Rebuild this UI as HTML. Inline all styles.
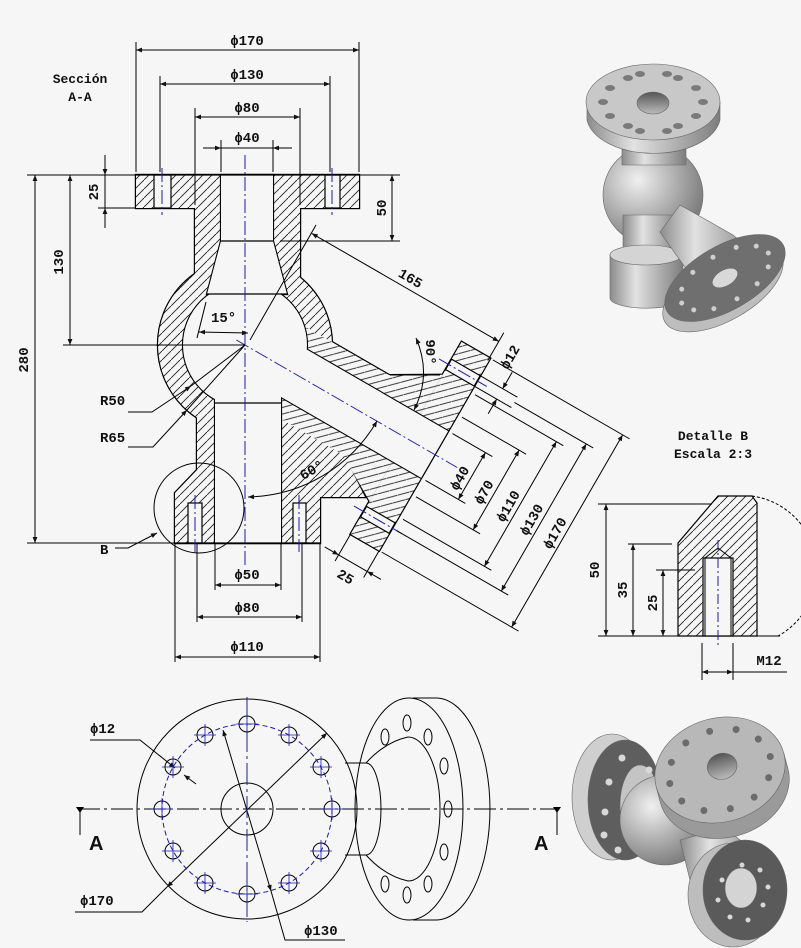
<!DOCTYPE html>
<html><head><meta charset="utf-8"><style>
html,body{margin:0;padding:0;background:#f6f6f6}
svg{display:block}
text{font-family:"Liberation Mono","DejaVu Sans Mono",monospace;font-weight:bold;font-size:14px;fill:#111}
</style></head><body>
<svg width="801" height="948" viewBox="0 0 801 948" xmlns="http://www.w3.org/2000/svg">
<defs>
<pattern id="h" patternUnits="userSpaceOnUse" width="9" height="9">
<rect width="9" height="9" fill="#f6f6f6"/><path d="M-1,10 L10,-1" stroke="#222" stroke-width="0.9"/>
</pattern>
<marker id="a" viewBox="0 0 10 10" refX="10" refY="5" markerWidth="9" markerHeight="6" orient="auto-start-reverse" markerUnits="userSpaceOnUse"><path d="M0,1 L10,5 L0,9z" fill="#111"/></marker>
<linearGradient id="g1" x1="0" x2="1"><stop offset="0" stop-color="#8c8c8c"/><stop offset="0.35" stop-color="#e2e2e2"/><stop offset="1" stop-color="#7d7d7d"/></linearGradient>
<radialGradient id="g2" cx="0.35" cy="0.35" r="0.7"><stop offset="0" stop-color="#f0f0f0"/><stop offset="0.6" stop-color="#a8a8a8"/><stop offset="1" stop-color="#7a7a7a"/></radialGradient>
<linearGradient id="g3" x1="0" x2="0" y1="0" y2="1"><stop offset="0" stop-color="#555"/><stop offset="1" stop-color="#bbb"/></linearGradient>
</defs>
<rect width="801" height="948" fill="#f6f6f6"/>

<!-- ===== SECTION VIEW ===== -->
<g id="body">
<g stroke="#000" stroke-width="2.4" fill="none">
<rect x="136" y="175" width="223" height="33"/>
<rect x="195" y="208" width="105" height="80"/>
<circle cx="245" cy="345" r="87"/>
<rect x="197" y="380" width="105" height="110"/>
<polygon points="197,470 175,493 175,543 320,543 320,497 302,485 302,470"/>
<polygon points="302,430 343,453 365,497 320,497 302,487"/>
<g transform="translate(245,345) rotate(30)">
<rect x="40" y="-46" width="110" height="92"/>
<polygon points="140,-46 186,-73 186,73 139,46"/>
<rect x="186" y="-111" width="33" height="222"/>
</g>
</g>
<g fill="url(#h)" stroke="none">
<rect x="136" y="175" width="223" height="33"/>
<rect x="195" y="208" width="105" height="80"/>
<circle cx="245" cy="345" r="87"/>
<rect x="197" y="380" width="105" height="110"/>
<polygon points="197,470 175,493 175,543 320,543 320,497 302,485 302,470"/>
<polygon points="302,430 343,453 365,497 320,497 302,487"/>
<g transform="translate(245,345) rotate(30)">
<rect x="40" y="-46" width="110" height="92"/>
<polygon points="140,-46 186,-73 186,73 139,46"/>
<rect x="186" y="-111" width="33" height="222"/>
</g>
</g>
<g stroke="#000" stroke-width="2.2" fill="none">
<polygon points="221,175 273,175 273,241 287,294 207,294 221,241"/>
<circle cx="245" cy="345" r="62"/>
<rect x="215" y="345" width="66" height="198"/>
<g transform="translate(245,345) rotate(30)"><rect x="0" y="-27" width="219" height="54"/></g>
</g>
<g fill="#f6f6f6" stroke="none">
<polygon points="221,175 273,175 273,241 287,294 207,294 221,241"/>
<circle cx="245" cy="345" r="62"/>
<rect x="215" y="345" width="66" height="198"/>
<g transform="translate(245,345) rotate(30)"><rect x="0" y="-27" width="219" height="54"/></g>
</g>
<g stroke="#000" stroke-width="1.2" fill="#f6f6f6">
<rect x="154" y="175" width="17" height="33"/>
<rect x="325" y="175" width="15" height="33"/>
<rect x="188" y="503" width="14" height="40"/>
<rect x="293" y="503" width="13" height="40"/>
<g transform="translate(245,345) rotate(30)">
<rect x="186" y="-91" width="33" height="12"/>
<rect x="186" y="79" width="33" height="12"/>
</g>
</g>
<g stroke="#000" stroke-width="1.2">
<line x1="221" y1="241" x2="273" y2="241"/>
<line x1="207" y1="294" x2="287" y2="294"/>
<line x1="215" y1="403" x2="281" y2="403"/>
<line x1="175" y1="543" x2="320" y2="543"/>
<line x1="136" y1="175" x2="359" y2="175"/>
</g>
</g>

<g stroke="#1a1ab0" stroke-width="1" stroke-dasharray="14,3,2,3" fill="none">
<line x1="245" y1="155" x2="245" y2="565"/>
<line x1="162" y1="168" x2="162" y2="215"/>
<line x1="332" y1="168" x2="332" y2="215"/>
<line x1="195" y1="495" x2="195" y2="552"/>
<line x1="299" y1="495" x2="299" y2="552"/>
<g transform="translate(245,345) rotate(30)">
<line x1="-10" y1="0" x2="245" y2="0"/>
<line x1="175" y1="-85" x2="230" y2="-85"/>
<line x1="175" y1="85" x2="230" y2="85"/>
</g>
</g>

<g stroke="#000" stroke-width="1" fill="none">
<line x1="136" y1="42" x2="136" y2="172"/><line x1="359" y1="42" x2="359" y2="172"/>
<line x1="136" y1="50" x2="359" y2="50" marker-start="url(#a)" marker-end="url(#a)"/>
<line x1="160" y1="76" x2="160" y2="172"/><line x1="330" y1="76" x2="330" y2="172"/>
<line x1="160" y1="84" x2="330" y2="84" marker-start="url(#a)" marker-end="url(#a)"/>
<line x1="195" y1="108" x2="195" y2="205"/><line x1="300" y1="108" x2="300" y2="205"/>
<line x1="195" y1="117" x2="300" y2="117" marker-start="url(#a)" marker-end="url(#a)"/>
<line x1="221" y1="140" x2="221" y2="172"/><line x1="273" y1="140" x2="273" y2="172"/>
<line x1="203" y1="148" x2="221" y2="148" marker-end="url(#a)"/>
<line x1="221" y1="148" x2="273" y2="148"/>
<line x1="292" y1="148" x2="273" y2="148" marker-end="url(#a)"/>
<line x1="27" y1="175" x2="136" y2="175"/>
<line x1="98" y1="208" x2="136" y2="208"/>
<line x1="105" y1="155" x2="105" y2="175" marker-end="url(#a)"/>
<line x1="105" y1="228" x2="105" y2="208" marker-end="url(#a)"/>
<line x1="105" y1="175" x2="105" y2="208"/>
<line x1="63" y1="345" x2="245" y2="345"/>
<line x1="70" y1="175" x2="70" y2="345" marker-start="url(#a)" marker-end="url(#a)"/>
<line x1="27" y1="543" x2="175" y2="543"/>
<line x1="35" y1="175" x2="35" y2="543" marker-start="url(#a)" marker-end="url(#a)"/>
<line x1="359" y1="175" x2="400" y2="175"/>
<line x1="280" y1="241" x2="400" y2="241"/>
<line x1="392" y1="175" x2="392" y2="241" marker-start="url(#a)" marker-end="url(#a)"/>
<line x1="215" y1="543" x2="215" y2="590"/><line x1="281" y1="543" x2="281" y2="590"/>
<line x1="215" y1="585" x2="281" y2="585" marker-start="url(#a)" marker-end="url(#a)"/>
<line x1="197" y1="543" x2="197" y2="622"/><line x1="302" y1="543" x2="302" y2="622"/>
<line x1="197" y1="617" x2="302" y2="617" marker-start="url(#a)" marker-end="url(#a)"/>
<line x1="175" y1="543" x2="175" y2="662"/><line x1="320" y1="543" x2="320" y2="662"/>
<line x1="175" y1="657" x2="320" y2="657" marker-start="url(#a)" marker-end="url(#a)"/>
<line x1="245" y1="345" x2="191" y2="386"/>
<line x1="245" y1="345" x2="187" y2="410"/>
<polyline points="128,412 152,412 191,386" marker-end="url(#a)"/>
<polyline points="128,447 153,447 187,410" marker-end="url(#a)"/>
<circle cx="199" cy="508" r="45"/>
<polyline points="115,548 128,548 157,533" marker-end="url(#a)"/>
<line x1="197" y1="338" x2="206" y2="302"/>
<line x1="199" y1="332" x2="248" y2="333" marker-start="url(#a)" marker-end="url(#a)"/>
<line x1="250" y1="340" x2="316" y2="225"/>
<path d="M248,497 A152,152 0 0 0 377,421" marker-start="url(#a)" marker-end="url(#a)"/>
<path d="M416,338 Q432,375 414,410" marker-start="url(#a)" marker-end="url(#a)"/>
<line x1="390" y1="375" x2="440" y2="375"/>
<g transform="translate(245,345) rotate(30)">
<line x1="218" y1="-108" x2="218" y2="-140"/>
<line x1="2" y1="-130" x2="218" y2="-130" marker-start="url(#a)" marker-end="url(#a)"/>
<line x1="219" y1="-79" x2="262" y2="-79"/>
<line x1="219" y1="-91" x2="262" y2="-91"/>
<line x1="245" y1="-62" x2="245" y2="-79" marker-end="url(#a)"/>
<line x1="245" y1="-110" x2="245" y2="-91" marker-end="url(#a)"/>
<line x1="224" y1="-27" x2="270" y2="-27"/><line x1="224" y1="27" x2="270" y2="27"/>
<line x1="262" y1="-27" x2="262" y2="27" marker-start="url(#a)" marker-end="url(#a)"/>
<line x1="224" y1="-46" x2="298" y2="-46"/><line x1="224" y1="46" x2="298" y2="46"/>
<line x1="290" y1="-46" x2="290" y2="46" marker-start="url(#a)" marker-end="url(#a)"/>
<line x1="224" y1="-72" x2="326" y2="-72"/><line x1="224" y1="72" x2="326" y2="72"/>
<line x1="318" y1="-72" x2="318" y2="72" marker-start="url(#a)" marker-end="url(#a)"/>
<line x1="262" y1="-85" x2="353" y2="-85"/><line x1="224" y1="85" x2="353" y2="85"/>
<line x1="345" y1="-85" x2="345" y2="85" marker-start="url(#a)" marker-end="url(#a)"/>
<line x1="222" y1="-111" x2="380" y2="-111"/><line x1="222" y1="111" x2="380" y2="111"/>
<line x1="372" y1="-111" x2="372" y2="111" marker-start="url(#a)" marker-end="url(#a)"/>
<line x1="186" y1="111" x2="186" y2="142"/><line x1="219" y1="111" x2="219" y2="142"/>
<line x1="170" y1="135" x2="186" y2="135" marker-end="url(#a)"/>
<line x1="235" y1="135" x2="219" y2="135" marker-end="url(#a)"/>
<line x1="186" y1="135" x2="219" y2="135"/>
</g>
</g>

<text x="80" y="83" text-anchor="middle" style="font-size:13px">Sección</text>
<text x="80" y="101" text-anchor="middle" style="font-size:13px">A-A</text>
<text x="247" y="45" text-anchor="middle">ϕ170</text>
<text x="247" y="79" text-anchor="middle">ϕ130</text>
<text x="247" y="112" text-anchor="middle">ϕ80</text>
<text x="247" y="142" text-anchor="middle">ϕ40</text>
<text transform="translate(98,192) rotate(-90)" text-anchor="middle">25</text>
<text transform="translate(63,262) rotate(-90)" text-anchor="middle">130</text>
<text transform="translate(28,360) rotate(-90)" text-anchor="middle">280</text>
<text transform="translate(386,208) rotate(-90)" text-anchor="middle">50</text>
<text x="100" y="405">R50</text>
<text x="100" y="442">R65</text>
<text x="100" y="554">B</text>
<text x="211" y="322">15°</text>
<text transform="translate(314,474) rotate(-30)" text-anchor="middle">60°</text>
<text transform="translate(426,352) rotate(90)" text-anchor="middle">90°</text>
<text x="247" y="579" text-anchor="middle">ϕ50</text>
<text x="247" y="612" text-anchor="middle">ϕ80</text>
<text x="247" y="651" text-anchor="middle">ϕ110</text>
<g transform="translate(245,345) rotate(30)">
<text x="110" y="-136" text-anchor="middle">165</text>
<text transform="translate(240,-122) rotate(-90)" text-anchor="middle">ϕ12</text>
<text transform="translate(257,8) rotate(-90)" text-anchor="middle">ϕ40</text>
<text transform="translate(285,8) rotate(-90)" text-anchor="middle">ϕ70</text>
<text transform="translate(313,8) rotate(-90)" text-anchor="middle">ϕ110</text>
<text transform="translate(340,8) rotate(-90)" text-anchor="middle">ϕ130</text>
<text transform="translate(367,8) rotate(-90)" text-anchor="middle">ϕ170</text>
<text x="203" y="155" text-anchor="middle">25</text>
</g>

<!-- ===== DETAIL B ===== -->
<polygon points="678,636 678,543 718,496 752,496 757,503 757,636" fill="url(#h)" stroke="#000" stroke-width="1.2"/>
<rect x="703" y="558" width="30" height="78" fill="#f6f6f6" stroke="#000" stroke-width="1.2"/>
<g stroke="#000" stroke-width="1" fill="none">
<polyline points="705,636 705,558 718,548 731,558 731,636"/>
<path d="M752,496 A75,75 0 0 1 778,636" stroke-dasharray="3,2"/>
<line x1="598" y1="636" x2="780" y2="636"/>
<line x1="598" y1="504" x2="712" y2="504"/>
<line x1="606" y1="504" x2="606" y2="636" marker-start="url(#a)" marker-end="url(#a)"/>
<line x1="628" y1="544" x2="672" y2="544"/>
<line x1="633" y1="544" x2="633" y2="636" marker-start="url(#a)" marker-end="url(#a)"/>
<line x1="656" y1="570" x2="695" y2="570"/>
<line x1="663" y1="570" x2="663" y2="636" marker-start="url(#a)" marker-end="url(#a)"/>
<line x1="702" y1="643" x2="702" y2="680"/><line x1="733" y1="643" x2="733" y2="680"/>
<line x1="702" y1="672" x2="733" y2="672" marker-start="url(#a)" marker-end="url(#a)"/>
<line x1="733" y1="672" x2="787" y2="672"/>
</g>
<line x1="718" y1="540" x2="718" y2="645" stroke="#1a1ab0" stroke-dasharray="10,3,2,3"/>
<text x="713" y="440" text-anchor="middle" style="font-size:13px">Detalle B</text>
<text x="713" y="458" text-anchor="middle" style="font-size:13px">Escala  2:3</text>
<text transform="translate(599,570) rotate(-90)" text-anchor="middle">50</text>
<text transform="translate(627,590) rotate(-90)" text-anchor="middle">35</text>
<text transform="translate(657,603) rotate(-90)" text-anchor="middle">25</text>
<text x="769" y="665" text-anchor="middle">M12</text>

<!-- ===== FRONT VIEW ===== -->
<g stroke="#000" stroke-width="1" fill="none">
<circle cx="247" cy="809" r="110"/>
<circle cx="247" cy="809" r="26"/>
<path d="M413,698 L436,698 A54,111 0 0 1 436,920 L413,920"/>
<ellipse cx="409" cy="809" rx="54" ry="111"/>
<path d="M408,737 A32,72 0 0 1 408,881"/>
<path d="M366,763 Q385,742 408,737"/>
<path d="M366,855 Q385,876 408,881"/>
<line x1="345" y1="763" x2="366" y2="763"/>
<line x1="345" y1="855" x2="366" y2="855"/>
<path d="M366,763 A15,46 0 0 1 366,855"/>
<ellipse cx="407" cy="723" rx="4" ry="8"/><ellipse cx="385" cy="737" rx="4" ry="8"/><ellipse cx="428" cy="737" rx="4" ry="8"/>
<ellipse cx="444" cy="766" rx="4" ry="8"/><ellipse cx="448" cy="809" rx="4" ry="8"/><ellipse cx="444" cy="852" rx="4" ry="8"/>
<ellipse cx="428" cy="884" rx="4" ry="8"/><ellipse cx="407" cy="895" rx="4" ry="8"/><ellipse cx="385" cy="884" rx="4" ry="8"/>
<circle cx="332" cy="809" r="8"/><circle cx="321" cy="851" r="8"/><circle cx="289" cy="883" r="8"/><circle cx="247" cy="894" r="8"/>
<circle cx="205" cy="883" r="8"/><circle cx="173" cy="851" r="8"/><circle cx="162" cy="809" r="8"/><circle cx="173" cy="767" r="8"/>
<circle cx="205" cy="735" r="8"/><circle cx="247" cy="724" r="8"/><circle cx="289" cy="735" r="8"/><circle cx="321" cy="767" r="8"/>
<line x1="327" y1="733" x2="167" y2="887" marker-start="url(#a)" marker-end="url(#a)"/>
<polyline points="167,887 142,912 75,912"/>
<line x1="223" y1="730" x2="271" y2="891" marker-start="url(#a)" marker-end="url(#a)"/>
<polyline points="271,891 285,940 345,940"/>
<polyline points="90,740 140,740 175,768" marker-end="url(#a)"/>
<line x1="196" y1="784" x2="184" y2="775" marker-end="url(#a)"/>
<line x1="80" y1="809" x2="80" y2="835"/>
<line x1="557" y1="809" x2="557" y2="835"/>
</g>
<path d="M76,807 L84,807 L80,813Z M553,807 L561,807 L557,813Z" fill="#000"/>
<line x1="78" y1="809" x2="557" y2="809" stroke="#000" stroke-dasharray="22,4,3,4"/>
<line x1="247" y1="697" x2="247" y2="922" stroke="#1a1ab0" stroke-dasharray="22,4,3,4"/>
<circle cx="247" cy="809" r="85" fill="none" stroke="#1a1ab0" stroke-dasharray="5,3"/>
<g stroke="#1a1ab0" stroke-width="0.8">
<path d="M321,809h22M332,798v22 M310,851h22M321,840v22 M278,883h22M289,872v22 M236,894h22M247,883v22 M194,883h22M205,872v22 M162,851h22M173,840v22 M151,809h22M162,798v22 M162,767h22M173,756v22 M194,735h22M205,724v22 M236,724h22M247,713v22 M278,735h22M289,724v22 M310,767h22M321,756v22"/>
</g>
<text x="90" y="733">ϕ12</text>
<text x="80" y="905">ϕ170</text>
<text x="304" y="935">ϕ130</text>
<text x="89" y="850" style="font-family:'Liberation Sans',sans-serif;font-size:20px">A</text>
<text x="534" y="850" style="font-family:'Liberation Sans',sans-serif;font-size:20px">A</text>

<!-- ===== 3D top-right ===== -->
<g stroke="#666" stroke-width="0.6">
<circle cx="653" cy="195" r="50" fill="url(#g2)"/>
<path d="M623,215 L623,255 L680,255 L680,215Z" fill="url(#g1)"/>
<path d="M610,255 L610,298 A36,10 0 0 0 683,298 L683,255Z" fill="url(#g1)"/>
<ellipse cx="646" cy="255" rx="36" ry="10" fill="#d4d4d4"/>
<polygon points="680,205 733,235 760,258 700,302 687,270 660,232" fill="url(#g1)"/>
<g transform="translate(725,278) rotate(-30)">
<ellipse cx="-7" cy="8" rx="67" ry="32" fill="#bdbdbd"/>
<ellipse cx="0" cy="0" rx="67" ry="32" fill="#6f6f6f"/>
<ellipse cx="0" cy="0" rx="14" ry="8" fill="#d8d8d8"/>
<g fill="#cfcfcf" stroke="none">
<circle cx="50" cy="0" r="2.5"/><circle cx="-50" cy="0" r="2.5"/><circle cx="43" cy="12" r="2.5"/><circle cx="-43" cy="12" r="2.5"/>
<circle cx="43" cy="-12" r="2.5"/><circle cx="-43" cy="-12" r="2.5"/><circle cx="25" cy="21" r="2.5"/><circle cx="-25" cy="21" r="2.5"/>
<circle cx="25" cy="-21" r="2.5"/><circle cx="-25" cy="-21" r="2.5"/><circle cx="0" cy="24" r="2.5"/><circle cx="0" cy="-24" r="2.5"/>
</g>
</g>
<path d="M622,140 L622,165 L686,165 L686,140Z" fill="url(#g1)"/>
<path d="M587,102 L587,120 A67,38 0 0 0 720,120 L720,102Z" fill="url(#g1)"/>
<ellipse cx="653" cy="102" rx="67" ry="38" fill="#c8c8c8"/>
<ellipse cx="653" cy="103" rx="16" ry="11" fill="url(#g3)"/>
<g fill="#7a7a7a" stroke="none">
<ellipse cx="703" cy="102" rx="5" ry="3"/><ellipse cx="603" cy="102" rx="5" ry="3"/><ellipse cx="696" cy="88" rx="5" ry="3"/><ellipse cx="610" cy="88" rx="5" ry="3"/>
<ellipse cx="696" cy="116" rx="5" ry="3"/><ellipse cx="610" cy="116" rx="5" ry="3"/><ellipse cx="678" cy="78" rx="5" ry="3"/><ellipse cx="628" cy="78" rx="5" ry="3"/>
<ellipse cx="678" cy="126" rx="5" ry="3"/><ellipse cx="628" cy="126" rx="5" ry="3"/><ellipse cx="667" cy="74" rx="5" ry="3"/><ellipse cx="640" cy="74" rx="5" ry="3"/>
<ellipse cx="640" cy="131" rx="5" ry="3"/><ellipse cx="667" cy="131" rx="5" ry="3"/>
</g>
</g>

<!-- ===== 3D bottom-right ===== -->
<g stroke="#666" stroke-width="0.6">
<ellipse cx="612" cy="797" rx="40" ry="63" fill="#cfcfcf"/>
<ellipse cx="625" cy="800" rx="37" ry="60" fill="#5e5e5e"/>
<ellipse cx="640" cy="805" rx="20" ry="40" fill="#c4c4c4"/>
<g fill="#d8d8d8" stroke="none">
<circle cx="622" cy="758" r="3.5"/><circle cx="609" cy="782" r="3.5"/><circle cx="605" cy="812" r="3.5"/><circle cx="604" cy="835" r="3.5"/><circle cx="618" cy="850" r="3.5"/><circle cx="649" cy="770" r="3.5"/>
</g>
<circle cx="665" cy="820" r="45" fill="url(#g2)"/>
<polygon points="680,840 725,828 765,860 722,905 690,880" fill="url(#g1)"/>
<ellipse cx="733" cy="895" rx="45" ry="52" fill="#bdbdbd"/>
<ellipse cx="745" cy="890" rx="42" ry="50" fill="#5a5a5a"/>
<ellipse cx="741" cy="888" rx="16" ry="20" fill="#d4d4d4"/>
<g fill="#d8d8d8" stroke="none">
<circle cx="742" cy="865" r="2.5"/><circle cx="760" cy="870" r="2.5"/><circle cx="768" cy="887" r="2.5"/><circle cx="763" cy="905" r="2.5"/><circle cx="748" cy="920" r="2.5"/><circle cx="730" cy="917" r="2.5"/><circle cx="718" cy="900" r="2.5"/><circle cx="722" cy="880" r="2.5"/>
</g>
<g transform="translate(720,770) rotate(-15)">
<path d="M-66,0 L-66,16 A66,52 0 0 0 66,16 L66,0Z" fill="#9a9a9a"/>
<ellipse cx="0" cy="0" rx="66" ry="52" fill="#b8b8b8"/>
<ellipse cx="3" cy="-3" rx="15" ry="13" fill="url(#g3)"/>
<g fill="#6c6c6c" stroke="none">
<circle cx="52" cy="0" r="3.5"/><circle cx="-52" cy="0" r="3.5"/><circle cx="45" cy="20" r="3.5"/><circle cx="-45" cy="20" r="3.5"/>
<circle cx="45" cy="-20" r="3.5"/><circle cx="-45" cy="-20" r="3.5"/><circle cx="26" cy="35" r="3.5"/><circle cx="-26" cy="35" r="3.5"/>
<circle cx="26" cy="-35" r="3.5"/><circle cx="-26" cy="-35" r="3.5"/><circle cx="0" cy="40" r="3.5"/><circle cx="0" cy="-40" r="3.5"/>
</g>
</g>
</g>
</svg>
</body></html>
